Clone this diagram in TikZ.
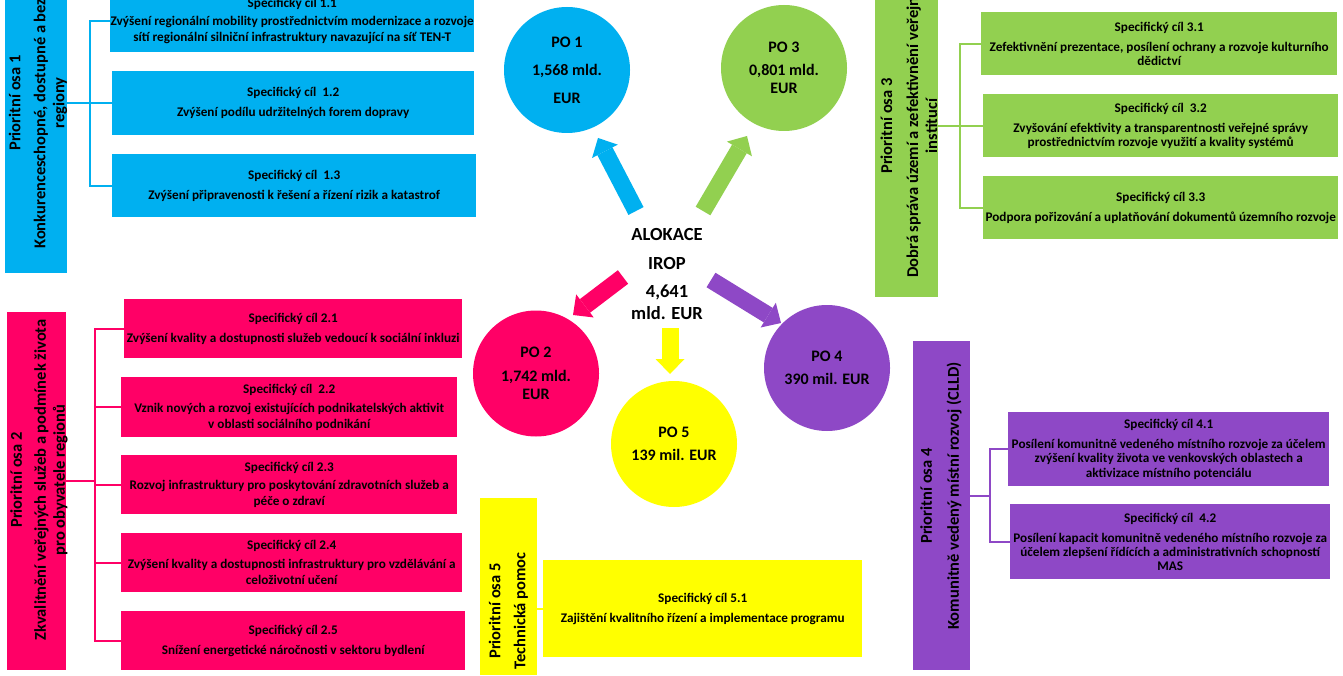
\documentclass[tikz,border=0pt]{standalone}
\usepackage{fontspec}
\setmainfont{Carlito}
\usetikzlibrary{arrows.meta}
\definecolor{cblue}{HTML}{00B0F0}
\definecolor{cgreen}{HTML}{92D050}
\definecolor{cpink}{HTML}{FF0066}
\definecolor{cyel}{HTML}{FFFF00}
\definecolor{cpur}{HTML}{8E48C6}
\begin{document}
\begin{tikzpicture}[x=1pt,y=-1pt,
  goal/.style={rectangle, inner sep=0pt, anchor=north west, align=center, font=\fontsize{13.2}{15.8}\selectfont\bfseries},
  goalb/.style={goal, font=\fontsize{13.2}{14.2}\selectfont\bfseries},
  axisbox/.style={rectangle, inner sep=0pt, anchor=north west},
  axistext/.style={rotate=90, align=center, inner sep=0pt, font=\fontsize{16.5}{19}\selectfont\bfseries},
  po/.style={circle, inner sep=0pt, minimum size=126pt, align=center, font=\fontsize{16}{18}\selectfont\bfseries},
  conn/.style={line width=2pt},
  bigarrow/.style={line width=17pt, -{Triangle[length=15pt,width=29pt,line width=0pt]}},
]
\useasboundingbox (0,0) rectangle (1343,676);
\clip (0,0) rectangle (1343,676);
\fill[white] (0,0) rectangle (1343,676);

% ---------- Axis 1 ----------
\node[axisbox, fill=cblue, minimum width=62pt, minimum height=373pt] (a1) at (5,-100) {};
\node[axistext] (t1) at (38,103) {Prioritní osa 1\\[6pt]Konkurenceschopné, dostupné a bezpečné\\regiony};
\node[goal, fill=cblue, minimum width=364pt, minimum height=62pt] (g11) at (110,-10)
  {Specifický cíl 1.1\\[2pt]Zvýšení regionální mobility prostřednictvím modernizace a rozvoje\\sítí regionální silniční infrastruktury navazující na síť TEN-T};
\node[goal, fill=cblue, minimum width=362pt, minimum height=64pt] (g12) at (112,71)
  {Specifický cíl~~1.2\\[4pt]Zvýšení podílu udržitelných forem dopravy};
\node[goal, fill=cblue, minimum width=364pt, minimum height=63pt] (g13) at (112,154)
  {Specifický cíl~~1.3\\[4pt]Zvýšení připravenosti k řešení a řízení rizik a katastrof};
\coordinate (b1) at (90,103);
\draw[conn, cblue] (a1.east |- g12.west) -- (g12.west);
\draw[conn, cblue] (g11.west) -| (b1) |- (g13.west);

% ---------- Axis 2 ----------
\node[axisbox, fill=cpink, minimum width=59pt, minimum height=358pt] (a2) at (7,312) {};
\node[axistext] (t2) at (39,480) {Prioritní osa 2\\[5pt]Zkvalitnění veřejných služeb a podmínek života\\pro obyvatele regionů};
\node[goal, fill=cpink, minimum width=338pt, minimum height=59pt] (g21) at (124,299)
  {Specifický cíl 2.1\\[4pt]Zvýšení kvality a dostupnosti služeb vedoucí k sociální inkluzi};
\node[goal, fill=cpink, minimum width=336pt, minimum height=60pt] (g22) at (121,377)
  {Specifický cíl~~2.2\\[3pt]Vznik nových a rozvoj existujících podnikatelských aktivit\\v oblasti sociálního podnikání};
\node[goal, fill=cpink, minimum width=336pt, minimum height=59pt] (g23) at (121,455)
  {Specifický cíl 2.3\\[3pt]Rozvoj infrastruktury pro poskytování zdravotních služeb a\\péče o zdraví};
\node[goal, fill=cpink, minimum width=341pt, minimum height=59pt] (g24) at (121,533)
  {Specifický cíl 2.4\\[3pt]Zvýšení kvality a dostupnosti infrastruktury pro vzdělávání a\\celoživotní učení};
\node[goal, fill=cpink, minimum width=344pt, minimum height=59pt] (g25) at (121,611)
  {Specifický cíl 2.5\\[4pt]Snížení energetické náročnosti v sektoru bydlení};
\coordinate (b2) at (95,481);
\draw[conn, cpink] (a2.east |- b2) -- (b2);
\draw[conn, cpink] (g21.west) -| (b2) |- (g25.west);
\draw[conn, cpink] (b2 |- g22.west) -- (g22.west);
\draw[conn, cpink] (b2 |- g23.west) -- (g23.west);
\draw[conn, cpink] (b2 |- g24.west) -- (g24.west);

% ---------- Axis 3 ----------
\node[axisbox, fill=cgreen, minimum width=63pt, minimum height=397pt] (a3) at (875,-100) {};
\node[axistext] (t3) at (909,126) {Prioritní osa 3\\[7pt]Dobrá správa území a zefektivnění veřejných\\institucí};
\node[goalb, fill=cgreen, minimum width=356pt, minimum height=63pt] (g31) at (981,12)
  {Specifický cíl 3.1\\[6pt]Zefektivnění prezentace, posílení ochrany a rozvoje kulturního\\dědictví};
\node[goalb, fill=cgreen, minimum width=355pt, minimum height=63pt] (g32) at (983,94)
  {Specifický cíl~~3.2\\[6pt]Zvyšování efektivity a transparentnosti veřejné správy\\prostřednictvím rozvoje využití a kvality systémů};
\node[goal, fill=cgreen, minimum width=355pt, minimum height=63pt] (g33) at (983,176)
  {Specifický cíl 3.3\\[4pt]Podpora pořizování a uplatňování dokumentů územního rozvoje};
\coordinate (b3) at (960,126);
\draw[conn, cgreen] (a3.east |- g32.west) -- (g32.west);
\draw[conn, cgreen] (g31.west) -| (b3) |- (g33.west);

% ---------- Axis 4 ----------
\node[axisbox, fill=cpur, minimum width=57pt, minimum height=329pt] (a4) at (913,341) {};
\node[axistext] (t4) at (941,496) {Prioritní osa 4\\[8pt]Komunitně vedený místní rozvoj (CLLD)};
\node[goalb, fill=cpur, minimum width=321pt, minimum height=74pt] (g41) at (1008,412)
  {Specifický cíl 4.1\\[6pt]Posílení komunitně vedeného místního rozvoje za účelem\\zvýšení kvality života ve venkovských oblastech a\\aktivizace místního potenciálu};
\node[goalb, fill=cpur, minimum width=320pt, minimum height=75pt] (g42) at (1010,504)
  {Specifický cíl~~4.2\\[6pt]Posílení kapacit komunitně vedeného místního rozvoje za\\účelem zlepšení řídících a administrativních schopností\\MAS};
\coordinate (b4) at (990,496);
\draw[conn, cpur] (a4.east |- b4) -- (b4);
\draw[conn, cpur] (g41.west) -| (b4) |- (g42.west);

% ---------- Axis 5 ----------
\node[axisbox, fill=cyel, minimum width=57pt, minimum height=177pt] (a5) at (480,498) {};
\node[axistext] (t5) at (508.5,611) {Prioritní osa 5\\[6pt]Technická pomoc};
\node[goal, fill=cyel, minimum width=319pt, minimum height=97pt] (g51) at (543,560)
  {Specifický cíl 5.1\\[4pt]Zajištění kvalitního řízení a implementace programu};
\draw[conn, cyel] (a5.east |- g51.west) -- (g51.west);

% ---------- Circles ----------
\node[po, fill=cblue] (po1) at (567,70) {PO 1\\[10pt]1,568 mld.\\[10pt]EUR};
\node[po, fill=cgreen] (po3) at (784,68) {PO 3\\[5pt]0,801 mld.\\EUR};
\node[po, fill=cpink] (po2) at (536,373.5) {PO 2\\[6pt]1,742 mld.\\EUR};
\node[po, fill=cyel] (po5) at (674,444) {PO 5\\[5pt]139 mil. EUR};
\node[po, fill=cpur] (po4) at (827,368) {PO 4\\[5pt]390 mil. EUR};

% ---------- Centre ----------
\node[align=center, inner sep=0pt, font=\fontsize{18.5}{21.5}\selectfont\bfseries] (alok) at (667,274)
  {ALOKACE\\[7pt]IROP\\[7pt]4,641\\mld. EUR};

% ---------- Big arrows ----------
\coordinate (s1) at (636,211);  \coordinate (e1) at (598,138);
\coordinate (s3) at (703,211);  \coordinate (e3) at (747,136);
\coordinate (s2) at (623,277);  \coordinate (e2) at (573,315);
\coordinate (s4) at (711,280);  \coordinate (e4) at (781,323);
\coordinate (s5) at (670,328);  \coordinate (e5) at (670,374);
\draw[bigarrow, cblue] (s1) -- (e1);
\draw[bigarrow, cgreen] (s3) -- (e3);
\draw[bigarrow, cpink] (s2) -- (e2);
\draw[bigarrow, cpur] (s4) -- (e4);
\draw[bigarrow, cyel] (s5) -- (e5);
\end{tikzpicture}
\end{document}
